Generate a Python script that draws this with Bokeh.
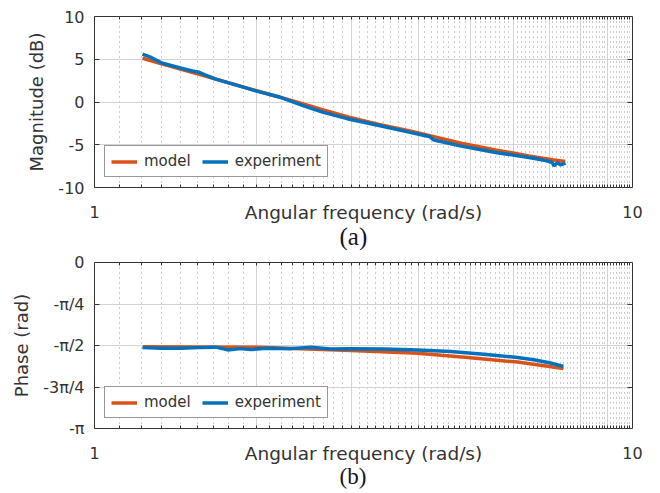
from bokeh.plotting import figure
from bokeh.models import Range1d, FixedTicker, LogAxis, LinearAxis, Grid, Title
from bokeh.layouts import column
from bokeh.embed import file_html
from bokeh.resources import INLINE
import math

# ---------------- data ----------------
mag_model_freq = [1.228, 1.338, 1.565, 1.830, 1.994, 2.203, 2.435, 2.653, 2.972,
                  3.379, 3.897, 4.275, 4.828, 5.567, 6.418, 7.094, 7.50]
mag_model_db = [5.12, 4.45, 3.25, 2.00, 1.35, 0.60, -0.20, -0.90, -1.77,
                -2.62, -3.45, -4.05, -4.85, -5.60, -6.30, -6.75, -6.95]

mag_exp_freq = [1.228, 1.27, 1.338, 1.45, 1.52, 1.565, 1.60, 1.681, 1.830, 1.994,
                2.203, 2.435, 2.653, 2.95, 3.379, 3.897, 4.10, 4.20, 4.275, 4.828,
                5.567, 6.418, 6.90, 7.094, 7.142, 7.25, 7.35, 7.508]
mag_exp_db = [5.59, 5.25, 4.53, 3.95, 3.62, 3.47, 3.20, 2.68, 2.00, 1.30,
              0.59, -0.39, -1.18, -1.95, -2.75, -3.61, -3.92, -4.05, -4.45, -5.19,
              -5.90, -6.49, -6.85, -7.08, -7.47, -7.12, -7.35, -7.15]

ph_model_freq = [1.230, 1.576, 2.012, 2.417, 2.994, 3.988, 4.94, 6.115, 7.44]
ph_model_rad = [-1.593, -1.598, -1.606, -1.630, -1.667, -1.717, -1.797, -1.885, -2.007]

ph_exp_freq = [1.228, 1.328, 1.447, 1.565, 1.681, 1.769, 1.870, 1.952, 2.082, 2.317,
               2.523, 2.749, 2.994, 3.447, 3.988, 4.592, 5.288, 6.115, 6.549, 7.043, 7.44]
ph_exp_rad = [-1.611, -1.621, -1.621, -1.611, -1.602, -1.654, -1.630, -1.649, -1.621, -1.630,
              -1.602, -1.639, -1.630, -1.639, -1.654, -1.686, -1.736, -1.797, -1.840, -1.903, -1.965]

x_tick_values = [1, 10]
x_tick_labels = ["1", "10"]
x_grid_major = [2, 3, 4, 5, 6, 7, 8, 9]
x_grid_minor = [n + k / 9 for n in range(1, 10) for k in range(1, 9)]

mag_ticks = [-10, -5, 0, 5, 10]
mag_tick_labels = ["-10", "-5", "0", "5", "10"]
ph_ticks = [-math.pi, -3 * math.pi / 4, -math.pi / 2, -math.pi / 4, 0.0]
ph_tick_labels = ["-\u03c0", "-3\u03c0/4", "-\u03c0/2", "-\u03c0/4", "0"]

# ---------------- styling ----------------
FONT = "DejaVu Sans"
TXT = "#333333"
ORANGE = "#D95319"
BLUE = "#0072BD"


def make_fig(height, top, bottom, yrange, yticks, ylabels, ylabel, tag, tag_standoff, tag_size):
    p = figure(width=652, height=height, x_axis_type="log",
               x_range=Range1d(1, 10), y_range=Range1d(*yrange),
               output_backend="svg", toolbar_location=None,
               min_border_left=94, min_border_right=20,
               min_border_top=top, min_border_bottom=bottom)
    p.xgrid.visible = False
    p.ygrid.visible = False
    p.outline_line_color = "#333333"
    p.outline_line_width = 1
    p.background_fill_color = "white"

    all_minor = sorted(x_grid_major + x_grid_minor)

    gx = Grid(dimension=0, ticker=FixedTicker(ticks=x_grid_major, minor_ticks=x_grid_minor),
              grid_line_color="#d4d4d4", grid_line_width=1,
              minor_grid_line_color="#9a9a9a", minor_grid_line_dash="1 4",
              minor_grid_line_width=1)
    gy = Grid(dimension=1, ticker=FixedTicker(ticks=yticks[1:-1]),
              grid_line_color="#d4d4d4", grid_line_width=1)
    p.add_layout(gx)
    p.add_layout(gy)

    xa = p.xaxis[0]
    xa.ticker = FixedTicker(ticks=x_tick_values, minor_ticks=all_minor)
    xa.major_label_overrides = {v: s for v, s in zip(x_tick_values, x_tick_labels)}
    xa.axis_line_color = None
    xa.major_tick_in = 0
    xa.major_tick_out = 0
    xa.minor_tick_in = 3
    xa.minor_tick_out = 0
    xa.minor_tick_line_color = "#333333"
    xa.major_label_standoff = 18
    xa.major_label_text_font = FONT
    xa.major_label_text_font_size = "16px"
    xa.major_label_text_color = TXT
    xa.axis_label = "Angular frequency (rad/s)"
    xa.axis_label_text_font = FONT
    xa.axis_label_text_font_size = "18.5px"
    xa.axis_label_text_font_style = "normal"
    xa.axis_label_text_color = TXT
    xa.axis_label_standoff = -19

    ya = p.yaxis[0]
    ya.ticker = FixedTicker(ticks=yticks)
    ya.major_label_overrides = {v: s for v, s in zip(yticks, ylabels)}
    ya.axis_line_color = None
    ya.major_tick_in = 5
    ya.major_tick_out = 0
    ya.major_tick_line_color = "#333333"
    ya.minor_tick_line_color = None
    ya.major_label_standoff = 10
    ya.major_label_text_font = FONT
    ya.major_label_text_font_size = "16px"
    ya.major_label_text_color = TXT
    ya.axis_label = ylabel
    ya.axis_label_text_font = FONT
    ya.axis_label_text_font_size = "18px"
    ya.axis_label_text_font_style = "normal"
    ya.axis_label_text_color = TXT
    ya.axis_label_standoff = 8

    top_ax = LogAxis(ticker=FixedTicker(ticks=[], minor_ticks=all_minor),
                     axis_line_color=None, major_tick_in=0, major_tick_out=0,
                     minor_tick_in=3, minor_tick_out=0, minor_tick_line_color="#333333")
    p.add_layout(top_ax, "above")
    right_ax = LinearAxis(ticker=FixedTicker(ticks=[], minor_ticks=yticks[1:-1]),
                          axis_line_color=None, major_tick_in=0, major_tick_out=0,
                          minor_tick_in=5, minor_tick_out=0, minor_tick_line_color="#333333")
    p.add_layout(right_ax, "right")

    p.add_layout(Title(text=tag, align="left", offset=245, standoff=tag_standoff,
                       text_font="Liberation Serif", text_font_size=tag_size,
                       text_font_style="normal", text_color="#141428"), "below")
    return p


def style_legend(p):
    lg = p.legend[0]
    lg.location = "bottom_left"
    lg.orientation = "horizontal"
    lg.margin = 10
    lg.padding = 6
    lg.spacing = 11
    lg.label_standoff = 7
    lg.glyph_width = 26
    lg.glyph_height = 17
    lg.label_height = 17
    lg.label_text_font = FONT
    lg.label_text_font_size = "15px"
    lg.label_text_color = TXT
    lg.border_line_color = "#333333"
    lg.border_line_width = 1
    lg.background_fill_color = "white"
    lg.background_fill_alpha = 1


p1 = make_fig(250, 16, 63, (-10, 10), mag_ticks, mag_tick_labels, "Magnitude (dB)", "(a)", -9, "25px")
p1.line(mag_model_freq, mag_model_db, line_color=ORANGE, line_width=3.5, legend_label="model")
p1.line(mag_exp_freq, mag_exp_db, line_color=BLUE, line_width=3.5, legend_label="experiment")
style_legend(p1)

p2 = make_fig(243, 12, 65, (-math.pi, 0), ph_ticks, ph_tick_labels, "Phase (rad)", "(b)", -9, "23px")
p2.line(ph_model_freq, ph_model_rad, line_color=ORANGE, line_width=3.5, legend_label="model")
p2.line(ph_exp_freq, ph_exp_rad, line_color=BLUE, line_width=3.5, legend_label="experiment")
style_legend(p2)

layout = column(p1, p2, spacing=0)
open("out.html", "w").write(file_html(layout, INLINE))
